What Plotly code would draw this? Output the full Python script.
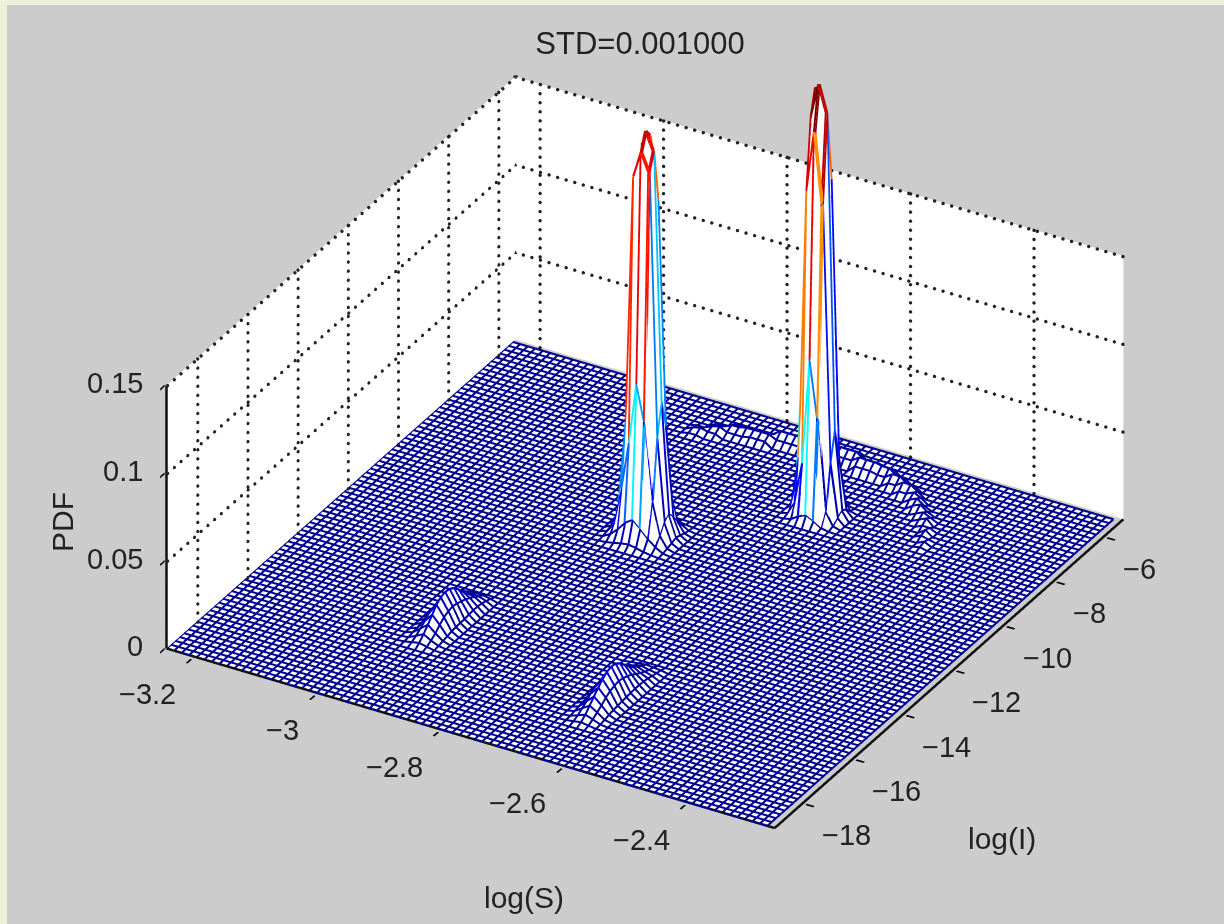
import numpy as np
import plotly.graph_objects as go

# ---------- axis limits and ticks ----------
x_lim = [-3.241, -2.256]
y_lim = [-19.2, -5.3]
x_pad = 0.002
y_pad = 0.03
z_wall_top = 0.15
z_range = [-0.0015, 0.30]
x_ticks = [-3.2, -3.0, -2.8, -2.6, -2.4]
x_labels = ["−3.2", "−3", "−2.8", "−2.6", "−2.4"]
y_ticks = [-18, -16, -14, -12, -10, -8, -6]
y_labels = ["−18", "−16", "−14", "−12", "−10", "−8", "−6"]
z_ticks = [0, 0.05, 0.1, 0.15]
z_labels = ["0", "0.05", "0.1", "0.15"]

# ---------- mesh sampling ----------
n_lines = 81
x_end = -2.268
y_end = -5.4

# ---------- values (PDF heights per mesh cell) ----------
peak_a_origin = (31, 46)
peak_a = [
    [.0002, .0006, .0014, .0024, .0030, .0022, .0012, .0006, .0002],
    [.0006, .0030, .0070, .0120, .0150, .0110, .0065, .0030, .0007],
    [.0014, .0070, .0280, .0550, .0900, .0700, .0260, .0075, .0013],
    [.0024, .0125, .0640, .2050, .2200, .2100, .0600, .0130, .0022],
    [.0030, .0150, .0820, .1550, .2300, .2200, .0780, .0155, .0032],
    [.0022, .0115, .0600, .2200, .2250, .1900, .0620, .0120, .0024],
    [.0012, .0065, .0270, .1300, .1500, .0900, .0250, .0070, .0013],
    [.0006, .0032, .0065, .0125, .0145, .0115, .0070, .0030, .0006],
    [.0002, .0006, .0013, .0022, .0028, .0024, .0014, .0006, .0002],
]
peak_b_origin = (47, 61)
peak_b = [
    [.0002, .0012, .0040, .0060, .0038, .0010, .0002],
    [.0012, .0090, .0320, .0920, .0600, .0085, .0012],
    [.0040, .0320, .1850, .2200, .1800, .0340, .0038],
    [.0058, .0940, .2250, .2450, .2300, .0500, .0060],
    [.0038, .1550, .2400, .2250, .1900, .0320, .0042],
    [.0011, .0085, .1200, .1000, .0340, .0090, .0011],
    [.0002, .0011, .0038, .0055, .0042, .0012, .0002],
]
bump_a_origin = (23, 15)
bump_a = [
    [.0003, .0012, .0020, .0010, .0002],
    [.0006, .0026, .0048, .0024, .0006],
    [.0012, .0046, .0080, .0044, .0012],
    [.0016, .0066, .0115, .0070, .0017],
    [.0022, .0088, .0150, .0092, .0024],
    [.0024, .0100, .0170, .0104, .0026],
    [.0026, .0105, .0180, .0110, .0028],
    [.0028, .0110, .0175, .0105, .0027],
    [.0030, .0100, .0160, .0095, .0032],
    [.0030, .0085, .0130, .0085, .0035],
    [.0032, .0060, .0095, .0070, .0034],
    [.0026, .0045, .0065, .0055, .0030],
    [.0018, .0030, .0040, .0036, .0022],
    [.0010, .0016, .0022, .0020, .0012],
]
bump_b_origin = (48, 9)
bump_b = [
    [.0002, .0008, .0015, .0008, .0002],
    [.0005, .0020, .0036, .0022, .0005],
    [.0010, .0038, .0066, .0040, .0010],
    [.0015, .0056, .0096, .0058, .0016],
    [.0020, .0078, .0125, .0080, .0022],
    [.0024, .0094, .0150, .0096, .0025],
    [.0026, .0104, .0170, .0105, .0028],
    [.0028, .0110, .0180, .0110, .0030],
    [.0030, .0108, .0175, .0104, .0032],
    [.0030, .0096, .0155, .0094, .0034],
    [.0032, .0080, .0125, .0080, .0034],
    [.0030, .0060, .0095, .0062, .0032],
    [.0024, .0044, .0070, .0046, .0028],
    [.0018, .0030, .0048, .0032, .0020],
    [.0012, .0020, .0030, .0020, .0014],
    [.0006, .0010, .0016, .0012, .0008],
]
arc_ix = list(range(28, 65))
arc_iy = [73, 73, 74, 74, 75, 75, 75, 75, 75, 75, 76, 76, 76, 76, 76, 76, 76, 76, 76,
          76, 76, 75, 75, 75, 75, 75, 74, 74, 73, 73, 72, 71, 70, 69, 68, 66, 64]
arc_z = [.002, .003, .003, .004, .004, .004, .005, .005, .005, .005, .006, .006, .006,
         .006, .006, .006, .007, .007, .007, .007, .007, .007, .007, .007, .006, .006,
         .006, .006, .006, .006, .005, .005, .005, .004, .004, .003, .002]
arc_side = [.001, .001, .002, .002, .002, .002, .002, .003, .003, .003, .003, .003, .003,
            .003, .003, .003, .003, .004, .004, .004, .004, .004, .004, .004, .003, .003,
            .003, .003, .003, .003, .003, .003, .002, .002, .002, .002, .001]

# ---------- assemble the mesh ----------
xs = np.linspace(x_lim[0], x_end, n_lines)
ys = np.linspace(y_lim[0], y_end, n_lines)
zz = np.zeros((n_lines, n_lines))
for origin, table in [(peak_a_origin, peak_a), (peak_b_origin, peak_b),
                      (bump_a_origin, bump_a), (bump_b_origin, bump_b)]:
    for r, row in enumerate(table):
        for c, val in enumerate(row):
            zz[origin[1] + r, origin[0] + c] = val
for ix, iy, zc, zs in zip(arc_ix, arc_iy, arc_z, arc_side):
    zz[iy, ix] = zc
    zz[iy - 1, ix] = zs
    zz[iy + 1, ix] = zs

# each mesh edge keeps one flat colour (that of its far vertex), as MATLAB's mesh does;
# the steep edges of the two tall peaks are collected separately and drawn heavier
lx, ly, lz, lc = [], [], [], []
hx, hy, hz, hc = [], [], [], []
steep = 0.03


def add_edge(x0, x1, y0, y1, z0, z1):
    lx.extend([x0, x1, None]); ly.extend([y0, y1, None])
    lz.extend([z0, z1, None]); lc.extend([z1, z1, 0])
    if max(z0, z1) > steep:
        hx.extend([x0, x1, None]); hy.extend([y0, y1, None])
        hz.extend([z0, z1, None]); hc.extend([z1, z1, 0])


for j in range(n_lines):
    for i in range(n_lines - 1):
        add_edge(xs[i], xs[i + 1], ys[j], ys[j], zz[j, i], zz[j, i + 1])
for i in range(n_lines):
    for j in range(n_lines - 1):
        add_edge(xs[i], xs[i], ys[j], ys[j + 1], zz[j, i], zz[j + 1, i])

WHITE = [[0, "#ffffff"], [1, "#ffffff"]]
MATLAB_JET = [[0, "#00008f"], [0.125, "#0000ff"], [0.375, "#00ffff"],
              [0.625, "#ffff00"], [0.875, "#ff0000"], [1, "#800000"]]
FLAT = dict(ambient=1, diffuse=0, specular=0, roughness=1, fresnel=0)
fig = go.Figure()

# back walls
xa, xb = x_lim
ya, yb = y_lim
for vx, vy in [([xa, xa, xa, xa], [ya, yb, yb, ya]), ([xa, xb, xb, xa], [yb, yb, yb, yb])]:
    fig.add_trace(go.Mesh3d(x=vx, y=vy, z=[0, 0, z_wall_top, z_wall_top],
                            i=[0, 0], j=[1, 2], k=[2, 3], color="#ffffff", opacity=1,
                            flatshading=True, lighting=FLAT, hoverinfo="skip"))

# dotted grid on the two walls, drawn as dots just in front of them
n_dots_z, n_dots_x, n_dots_y = 30, 72, 53
off_x, off_y = 0.0015, -0.02
gx, gy, gz = [], [], []
for t in y_ticks:
    d = np.linspace(0, z_wall_top, n_dots_z)
    gx += [xa + off_x] * n_dots_z; gy += [t] * n_dots_z; gz += list(d)
for t in x_ticks:
    d = np.linspace(0, z_wall_top, n_dots_z)
    gx += [t] * n_dots_z; gy += [yb + off_y] * n_dots_z; gz += list(d)
for t in z_ticks[1:]:
    d = np.linspace(ya, yb, n_dots_y)
    gx += [xa + off_x] * n_dots_y; gy += list(d); gz += [t] * n_dots_y
    d = np.linspace(xa, xb, n_dots_x)
    gx += list(d); gy += [yb + off_y] * n_dots_x; gz += [t] * n_dots_x
fig.add_trace(go.Scatter3d(x=gx, y=gy, z=gz, mode="markers", hoverinfo="skip",
                           marker=dict(color="#222222", size=2.0, line=dict(width=0))))

# solid axis lines
fig.add_trace(go.Scatter3d(
    x=[xa, xa, None, xa, xb, None, xb, xb],
    y=[ya, ya, None, ya, ya, None, ya, yb],
    z=[0, z_wall_top, None, 0, 0, None, 0, 0],
    mode="lines", hoverinfo="skip", line=dict(color="#111111", width=5)))

# white faces + coloured mesh lines
fig.add_trace(go.Surface(x=xs, y=ys, z=zz - 0.0008, colorscale=WHITE, showscale=False,
                         lighting=FLAT, hoverinfo="skip"))
fig.add_trace(go.Scatter3d(x=lx, y=ly, z=lz, mode="lines", hoverinfo="skip",
                           line=dict(color=lc, colorscale=MATLAB_JET, cmin=0, cmax=0.245, width=4)))
fig.add_trace(go.Scatter3d(x=hx, y=hy, z=hz, mode="lines", hoverinfo="skip",
                           line=dict(color=hc, colorscale=MATLAB_JET, cmin=0, cmax=0.245, width=7)))

# ---------- camera (orthographic) ----------
direction = np.array([0.4297, -0.7441, 0.5113])
right = np.array([0.866, 0.5, 0.0])
up = np.array([-0.2557, 0.4428, 0.859])
k = 2.0
zoom = 1.52
shift_px = np.array([33.0, 140.0])
px_per_unit = 462.0
center = -(shift_px[0] * right + shift_px[1] * up) / px_per_unit
eye = center + k * direction


def axis(ticks, rng):
    return dict(range=rng, tickmode="array", tickvals=ticks, showticklabels=False,
                showgrid=False, zeroline=False, showbackground=False, showline=False,
                showspikes=False, ticks="outside", ticklen=9, tickwidth=4,
                tickcolor="#000000", title=dict(text=""))


# tick labels as horizontal text anchored at the tick's data position
TF = dict(family="Liberation Sans, Arial", size=29, color="#222222")
scene_notes = []
for t, s in zip(x_ticks, x_labels):
    scene_notes.append(dict(x=t, y=ya, z=0, text=s, showarrow=False, font=TF,
                            xanchor="right", yanchor="middle", xshift=-14, yshift=-38))
for t, s in zip(y_ticks, y_labels):
    scene_notes.append(dict(x=xb, y=t, z=0, text=s, showarrow=False, font=TF,
                            xanchor="left", yanchor="middle", xshift=15, yshift=-34))
for t, s in zip(z_ticks, z_labels):
    scene_notes.append(dict(x=xa, y=ya, z=t, text=s, showarrow=False, font=TF,
                            xanchor="right", yanchor="middle", xshift=-22, yshift=2))

x_rng = [xa - x_pad, xb + x_pad]
y_rng = [ya - y_pad, yb + y_pad]
W, H = 1224, 924
fig.update_layout(
    width=W, height=H, margin=dict(l=0, r=0, t=0, b=0), showlegend=False,
    paper_bgcolor="#eef0dc",
    font=dict(family="Liberation Sans, Arial", size=30, color="#222222"),
    title=dict(text="STD=0.001000", x=640 / W, y=1 - 43 / H, xanchor="center",
               yanchor="middle", font=dict(size=31, color="#222222")),
    shapes=[dict(type="rect", xref="paper", yref="paper", x0=7 / W, x1=1, y0=0, y1=1 - 5 / H,
                 fillcolor="#cccccc", line=dict(width=0), layer="below")],
    annotations=[
        dict(text="log(S)", x=524 / W, y=1 - 897 / H, xref="paper", yref="paper", showarrow=False,
             xanchor="center", yanchor="middle"),
        dict(text="log(I)", x=1002 / W, y=1 - 838 / H, xref="paper", yref="paper", showarrow=False,
             xanchor="center", yanchor="middle"),
        dict(text="PDF", x=62 / W, y=1 - 522 / H, xref="paper", yref="paper", showarrow=False,
             textangle=-90, xanchor="center", yanchor="middle"),
    ],
    scene=dict(
        domain=dict(x=[0, 1], y=[0, 1]),
        bgcolor="rgba(0,0,0,0)",
        aspectmode="manual",
        aspectratio=dict(x=zoom * (x_rng[1] - x_rng[0]) / (xb - xa),
                         y=0.993 * zoom * (y_rng[1] - y_rng[0]) / (yb - ya),
                         z=zoom * 0.436 * (z_range[1] - z_range[0]) / 0.15),
        xaxis=axis(x_ticks, x_rng),
        yaxis=axis(y_ticks, y_rng),
        zaxis=axis(z_ticks, z_range),
        annotations=scene_notes,
        camera=dict(projection=dict(type="orthographic"),
                    up=dict(x=0, y=0, z=1),
                    center=dict(x=center[0], y=center[1], z=center[2]),
                    eye=dict(x=eye[0], y=eye[1], z=eye[2])),
    ),
)
fig.write_html("out.html", config={"displayModeBar": False},
               post_script="document.body.style.margin='0';")
